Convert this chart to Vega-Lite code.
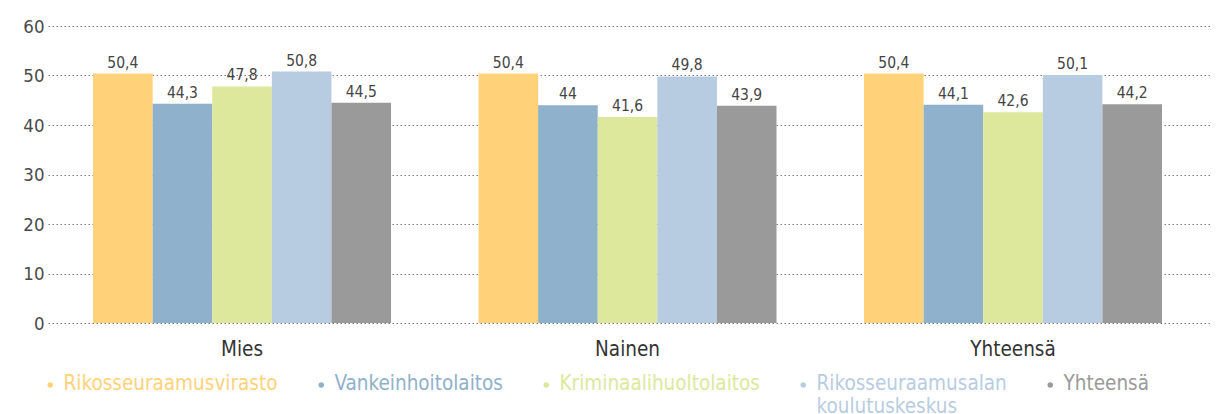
{
  "$schema": "https://vega.github.io/schema/vega-lite/v6.json",
  "width": 1164,
  "height": 297,
  "autosize": {"type": "none"},
  "padding": {"left": 48, "top": 26, "right": 10, "bottom": 91},
  "config": {
    "locale": {"number": {"decimal": ",", "thousands": " ", "grouping": [3], "currency": ["", " €"]}},
    "view": {"stroke": null},
    "font": "DejaVu Sans Condensed"
  },
  "data": {
    "values": [
      {"group": "Mies", "series": "Rikosseuraamusvirasto", "value": 50.4},
      {"group": "Mies", "series": "Vankeinhoitolaitos", "value": 44.3},
      {"group": "Mies", "series": "Kriminaalihuoltolaitos", "value": 47.8},
      {"group": "Mies", "series": "Rikosseuraamusalan koulutuskeskus", "value": 50.8},
      {"group": "Mies", "series": "Yhteensä", "value": 44.5},
      {"group": "Nainen", "series": "Rikosseuraamusvirasto", "value": 50.4},
      {"group": "Nainen", "series": "Vankeinhoitolaitos", "value": 44},
      {"group": "Nainen", "series": "Kriminaalihuoltolaitos", "value": 41.6},
      {"group": "Nainen", "series": "Rikosseuraamusalan koulutuskeskus", "value": 49.8},
      {"group": "Nainen", "series": "Yhteensä", "value": 43.9},
      {"group": "Yhteensä", "series": "Rikosseuraamusvirasto", "value": 50.4},
      {"group": "Yhteensä", "series": "Vankeinhoitolaitos", "value": 44.1},
      {"group": "Yhteensä", "series": "Kriminaalihuoltolaitos", "value": 42.6},
      {"group": "Yhteensä", "series": "Rikosseuraamusalan koulutuskeskus", "value": 50.1},
      {"group": "Yhteensä", "series": "Yhteensä", "value": 44.2}
    ]
  },
  "encoding": {
    "x": {
      "field": "group", "type": "nominal", "sort": null, "title": null,
      "scale": {"paddingInner": 0.227, "paddingOuter": 0.1233, "align": 0.474},
      "axis": {"domain": false, "ticks": false, "labelAngle": 0, "labelFontSize": 20.5, "labelColor": "#333333", "labelPadding": 16}
    },
    "xOffset": {"field": "series", "type": "nominal", "sort": null, "scale": {"paddingInner": 0, "paddingOuter": 0}},
    "y": {
      "field": "value", "type": "quantitative", "title": null,
      "scale": {"domain": [0, 60], "nice": false},
      "axis": {"values": [0, 10, 20, 30, 40, 50, 60], "domain": false, "ticks": false, "labelFontSize": 18.5, "labelColor": "#4a4a4a", "labelPadding": 4,
        "grid": true, "gridColor": "#777777", "gridDash": [1.5, 2.5], "gridWidth": 1.2}
    }
  },
  "layer": [
    {
      "mark": {"type": "bar"},
      "encoding": {
        "color": {
          "field": "series", "type": "nominal", "sort": null, "title": null,
          "scale": {
            "domain": ["Rikosseuraamusvirasto", "Vankeinhoitolaitos", "Kriminaalihuoltolaitos", "Rikosseuraamusalan koulutuskeskus", "Yhteensä"],
            "range": ["#FFD27A", "#8FB1CB", "#DDE89C", "#B8CCE1", "#9A9A9A"]
          },
          "legend": {
            "orient": "none", "legendX": -8, "legendY": 348, "direction": "horizontal", "padding": 0,
            "symbolType": "circle", "symbolSize": 30, "labelFontSize": 20.5, "columnPadding": 33,
            "labelLimit": 400, "labelOffset": 3, "labelBaseline": "top",
            "labelExpr": "datum.label == 'Rikosseuraamusalan koulutuskeskus' ? ['Rikosseuraamusalan', 'koulutuskeskus'] : [datum.label, ' ']",
            "encode": {
              "labels": {"update": {"fill": {"scale": "color", "field": "value"}, "y": {"value": 0}}},
              "symbols": {"update": {"y": {"value": 11}}}
            }
          }
        }
      }
    },
    {
      "mark": {"type": "text", "baseline": "alphabetic", "dy": -6, "fontSize": 15.5, "color": "#444444"},
      "encoding": {
        "text": {"field": "value", "type": "quantitative", "format": "~g"}
      }
    }
  ]
}
